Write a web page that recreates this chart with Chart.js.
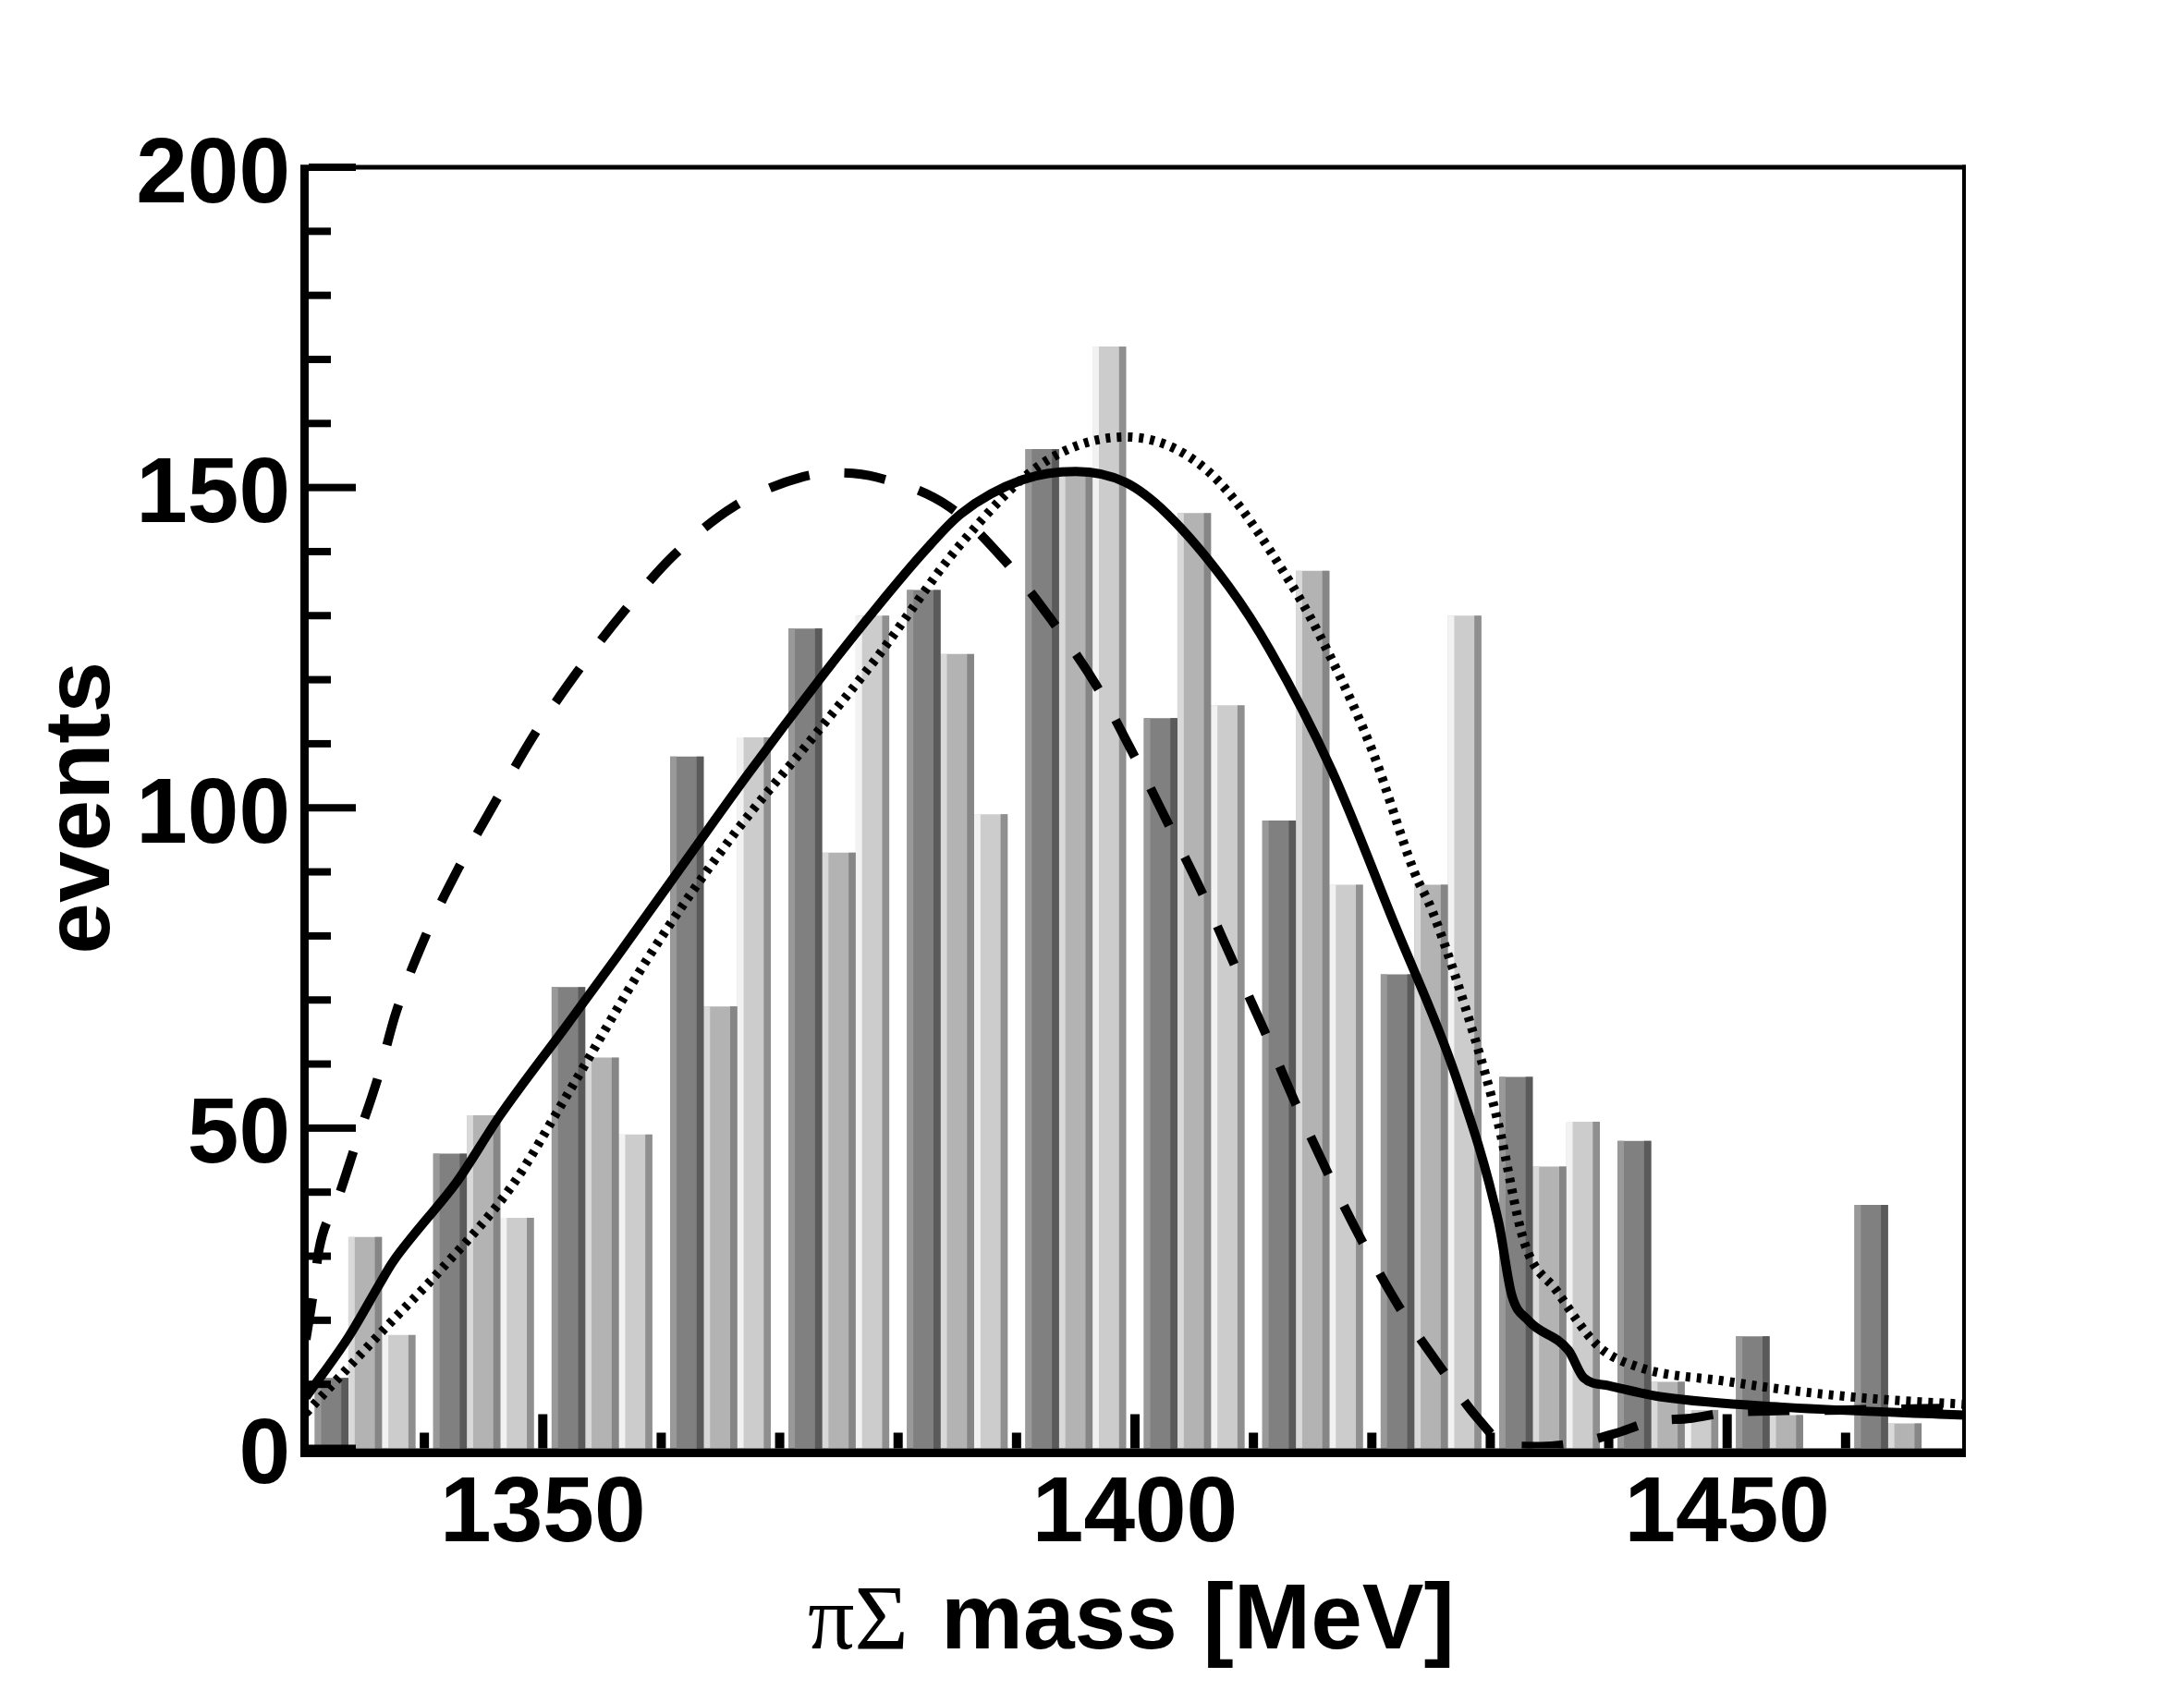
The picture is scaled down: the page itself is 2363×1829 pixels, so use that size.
<!DOCTYPE html>
<html>
<head>
<meta charset="utf-8">
<script src="https://cdn.jsdelivr.net/npm/chart.js@4.4.1/dist/chart.umd.min.js"></script>
<style>
  html, body { margin: 0; padding: 0; background: #fff; }
  canvas { display: block; }
</style>
</head>
<body>
<canvas id="myChart" width="2363" height="1829"></canvas>
<script>
// 10 MeV bins (centres), three histograms side by side in each bin
const bins = [1335, 1345, 1355, 1365, 1375, 1385, 1395, 1405, 1415, 1425, 1435, 1445, 1455, 1465];
const histDark = [11, 46, 72, 108, 128, 134, 156, 114, 98, 74, 58, 48, 17.5, 38];
const histMid = [33, 52, 61, 69, 93, 124, 152, 146, 137, 88, 44, 10.4, 5.2, 3.9];
const histLight = [17.7, 36, 49, 111, 130, 99, 172, 116, 88, 130, 51, 6, 0, 0];

const xTicks = [1350, 1400, 1450];
const yTicks = [0, 50, 100, 150, 200];

// curves
const solidX = [1330, 1333.6, 1336.2, 1337.3, 1339.3, 1342.7, 1346.4, 1352, 1356.2, 1362.4, 1367.3, 1373.6, 1378.3, 1382.2, 1385.3, 1390.5, 1395, 1399.2, 1402.7, 1407.9, 1411.4, 1416.6, 1421.9, 1427.1, 1430.7, 1431.8, 1433.2, 1436.6, 1437.9, 1440, 1444.6, 1455, 1470];
const solidY = [8, 17.4, 25.6, 29, 33.8, 41.5, 52, 66, 76.6, 92.6, 105.2, 120.6, 131.5, 140, 145.9, 151.2, 152.5, 150.8, 145.9, 134.6, 124.6, 105.9, 81.9, 58, 35.3, 24, 20, 15.3, 11, 9.8, 8, 6.4, 5.2];

const dashX = [1330, 1330.6, 1331.1, 1332.7, 1334.3, 1336.1, 1337.6, 1340.1, 1343, 1346.1, 1349.2, 1352.9, 1357, 1361.1, 1366.1, 1372, 1375, 1378.2, 1384.3, 1389, 1393, 1396.7, 1399.8, 1402.7, 1405.6, 1408.3, 1410.9, 1413.5, 1416.2, 1419.1, 1422.3, 1425.9, 1428.8, 1431.6, 1434.3, 1437.7, 1440.5, 1443.7, 1446.9, 1450.1, 1460, 1470];
const dashY = [17, 24, 31, 39, 48, 58, 68, 80, 91, 101.3, 111.2, 121.2, 131, 139.5, 147, 151.7, 152.3, 151.6, 147, 138.6, 129.2, 119.2, 108.6, 97.9, 87, 75.9, 65.3, 54.1, 43.3, 32.6, 22.1, 12.4, 5, 0.4, 0.3, 1, 2.3, 4.2, 4.7, 5.6, 6, 6.3];

const dotX = [1330, 1336.5, 1341.2, 1347.4, 1352, 1358.9, 1365.9, 1372.9, 1378.1, 1385.3, 1392.3, 1399.2, 1406.2, 1413.1, 1416.6, 1420.1, 1423.6, 1425.1, 1428.6, 1430.6, 1432.9, 1435.6, 1439.1, 1442.5, 1449.8, 1456.5, 1463.4, 1470];
const dotY = [5.5, 18.4, 27.5, 41, 55, 76.6, 95.3, 111.2, 123.2, 141.2, 153.9, 157.9, 152.5, 135.2, 123.2, 108.6, 89.9, 83.9, 64.6, 51.3, 32, 24.6, 16, 12.7, 10.5, 8.8, 7.6, 6.9];

function pts(xs, ys) {
  return xs.map(function(x, i){ return {x: x, y: ys[i]}; });
}
function barPts(vals) {
  return bins.map(function(b, i){ return {x: b, y: vals[i]}; });
}

const sans = '"Liberation Sans", Arial, Helvetica, sans-serif';
const bigFont = {family: sans, size: 100, weight: 'bold'};

// ROOT-like look: 3d edges on bars, inner ticks, frame, mixed-font x title
const rootStyle = {
  id: 'rootStyle',
  afterDatasetDraw(chart, args) {
    const ds = chart.data.datasets[args.index];
    if (!ds.edge) return;
    const c = chart.ctx;
    c.save();
    args.meta.data.forEach(function(el){
      const p = el.getProps(['x', 'y', 'base', 'width'], true);
      const h = p.base - p.y;
      if (h <= 0) return;
      const l = p.x - p.width / 2;
      c.fillStyle = ds.edge[0];
      c.fillRect(l, p.y, p.width * 0.19, h);
      c.fillStyle = ds.edge[1];
      c.fillRect(l + p.width * 0.79, p.y, p.width * 0.21, h);
    });
    c.restore();
  },
  afterDraw(chart) {
    const c = chart.ctx;
    const a = chart.chartArea;
    const xs = chart.scales.x, ys = chart.scales.y;
    c.save();
    c.fillStyle = '#000';
    // frame
    c.fillRect(a.left - 6, a.top - 2.5, a.right - a.left + 8, 5);
    c.fillRect(a.right - 2, a.top - 2.5, 4, a.bottom - a.top + 12);
    c.fillRect(a.left - 6, a.top - 2.5, 9, a.bottom - a.top + 12);
    c.fillRect(a.left - 6, a.bottom, a.right - a.left + 8, 9.5);
    // y ticks, inside
    for (let v = 0; v <= 200; v += 10) {
      const py = ys.getPixelForValue(v);
      const len = v % 50 === 0 ? 51 : 24;
      c.fillRect(a.left + 3, py - 4, len, 8);
    }
    // x ticks, inside
    for (let m = 1340; m < 1470; m += 10) {
      const px = xs.getPixelForValue(m);
      const len = m % 50 === 0 ? 37 : 17;
      c.fillRect(px - 5, a.bottom - len, 10, len);
    }
    // x title
    c.textBaseline = 'alphabetic';
    c.textAlign = 'left';
    c.font = '100px "Liberation Serif", "Times New Roman", serif';
    c.fillText('πΣ', 874, 1784);
    c.font = 'bold 100px ' + sans;
    c.fillText('mass [MeV]', 1018, 1784);
    c.restore();
  }
};

const ctx = document.getElementById('myChart').getContext('2d');
var myChart = new Chart(ctx, {
  type: 'bar',
  data: {
    datasets: [
      {label: 'h1', data: barPts(histDark), backgroundColor: '#808080', edge: ['#999999', '#5a5a5a'], borderWidth: 0, categoryPercentage: 0.85, barPercentage: 1.0, order: 5},
      {label: 'h2', data: barPts(histMid), backgroundColor: '#b3b3b3', edge: ['#d9d9d9', '#868686'], borderWidth: 0, categoryPercentage: 0.85, barPercentage: 1.0, order: 5},
      {label: 'h3', data: barPts(histLight), backgroundColor: '#cccccc', edge: ['#f2f2f2', '#8f8f8f'], borderWidth: 0, categoryPercentage: 0.85, barPercentage: 1.0, order: 5},
      {type: 'line', label: 'dotted', data: pts(dotX, dotY), borderColor: '#000', borderWidth: 10, borderDash: [5, 7], borderCapStyle: 'butt', pointRadius: 0, cubicInterpolationMode: 'monotone', fill: false, order: 3},
      {type: 'line', label: 'dashed', data: pts(dashX, dashY), borderColor: '#000', borderWidth: 10, borderDash: [45, 38], borderCapStyle: 'butt', pointRadius: 0, cubicInterpolationMode: 'monotone', fill: false, order: 2},
      {type: 'line', label: 'solid', data: pts(solidX, solidY), borderColor: '#000', borderWidth: 10, pointRadius: 0, cubicInterpolationMode: 'monotone', fill: false, order: 1}
    ]
  },
  options: {
    responsive: false,
    devicePixelRatio: 1,
    animation: false,
    layout: {padding: {top: 181, right: 238, left: 0, bottom: 0}},
    plugins: {legend: {display: false}, tooltip: {enabled: false}},
    scales: {
      x: {
        type: 'linear', min: 1330, max: 1470, offset: false,
        grid: {display: false, offset: false}, border: {display: false},
        afterBuildTicks: function(s){ s.ticks = xTicks.map(function(v){ return {value: v}; }); },
        afterFit: function(s){ s.height = 261.5; },
        ticks: {font: bigFont, color: '#000', padding: 5, maxRotation: 0, autoSkip: false,
          callback: function(v){ return String(v); }}
      },
      y: {
        min: 0, max: 200,
        grid: {display: false}, border: {display: false},
        afterBuildTicks: function(s){ s.ticks = yTicks.map(function(v){ return {value: v}; }); },
        afterFit: function(s){ s.width = 331; },
        ticks: {font: bigFont, color: '#000', padding: 9, labelOffset: 10,
          callback: function(v){ return String(v); }},
        title: {display: true, text: 'events', font: bigFont, color: '#000', padding: {top: 30, bottom: 0}}
      }
    }
  },
  plugins: [rootStyle]
});
</script>
</body>
</html>
